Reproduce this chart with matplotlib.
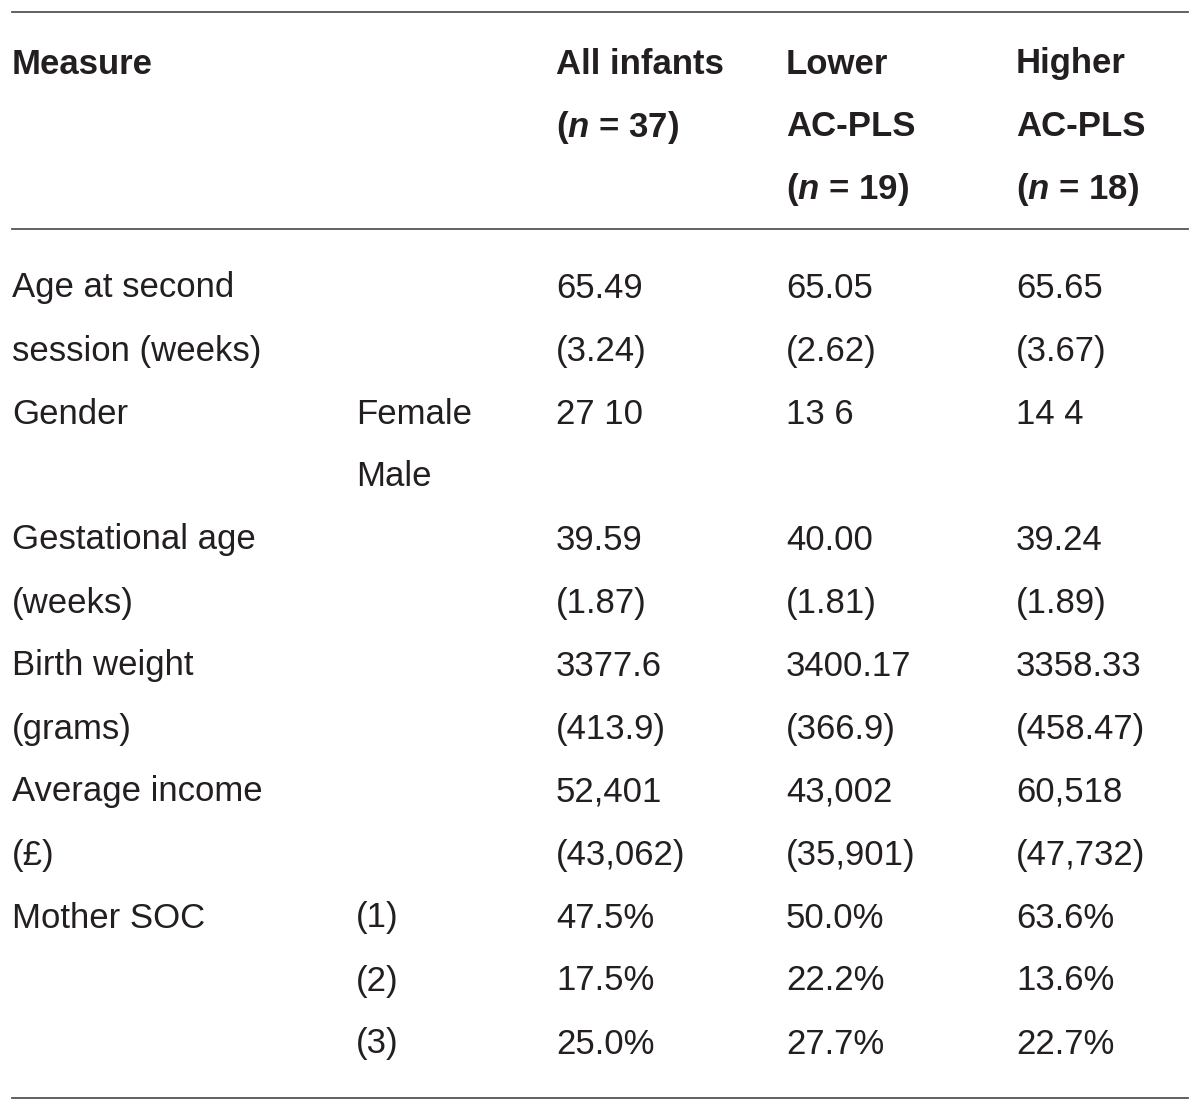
import matplotlib.pyplot as plt

plt.rcParams['font.family'] = ['Liberation Sans', 'DejaVu Sans']
plt.rcParams['mathtext.fontset'] = 'custom'
plt.rcParams['mathtext.rm'] = 'Liberation Sans'
plt.rcParams['mathtext.bf'] = 'Liberation Sans:bold'
plt.rcParams['mathtext.bfit'] = 'Liberation Sans:bold:italic'

header = [
    ["Measure", "", "All infants", "Lower", "Higher"],
    ["", "", r"($\mathbfit{n}$ = 37)", "AC-PLS", "AC-PLS"],
    ["", "", "", r"($\mathbfit{n}$ = 19)", r"($\mathbfit{n}$ = 18)"],
]

measure = ["Age at second", "session (weeks)", "Gender", "", "Gestational age",
           "(weeks)", "Birth weight", "(grams)", "Average income", "(£)",
           "Mother SOC", "", ""]
sub = ["", "", "Female", "Male", "", "", "", "", "", "", "(1)", "(2)", "(3)"]
all_inf = ["65.49", "(3.24)", "27 10", "", "39.59", "(1.87)", "3377.6", "(413.9)",
           "52,401", "(43,062)", "47.5%", "17.5%", "25.0%"]
lower = ["65.05", "(2.62)", "13 6", "", "40.00", "(1.81)", "3400.17", "(366.9)",
         "43,002", "(35,901)", "50.0%", "22.2%", "27.7%"]
higher = ["65.65", "(3.67)", "14 4", "", "39.24", "(1.89)", "3358.33", "(458.47)",
          "60,518", "(47,732)", "63.6%", "13.6%", "22.7%"]

W, H = 1200, 1112
fig = plt.figure(figsize=(W / 100, H / 100), dpi=100)
ax = fig.add_axes([0, 0, 1, 1])
ax.set_xlim(0, W)
ax.set_ylim(H, 0)
ax.axis('off')

col_x = [12, 356, 556, 786, 1016]
fs = 25
txt_col = '#231f20'

for i, row in enumerate(header):
    y = 64 + i * 63
    for x, t in zip(col_x, row):
        if t:
            ax.text(x, y, t, fontsize=fs, fontweight='bold', color=txt_col,
                    va='center', ha='left')

cols = [measure, sub, all_inf, lower, higher]
for r in range(len(measure)):
    y = 288 + r * 63
    for x, c in zip(col_x, cols):
        if c[r]:
            ax.text(x, y, c[r], fontsize=fs, color=txt_col, va='center', ha='left')

for y in [12, 229, 1098]:
    ax.plot([12, 1188], [y, y], color='#555555', lw=1.3)

fig.savefig('out.png', dpi=100)
